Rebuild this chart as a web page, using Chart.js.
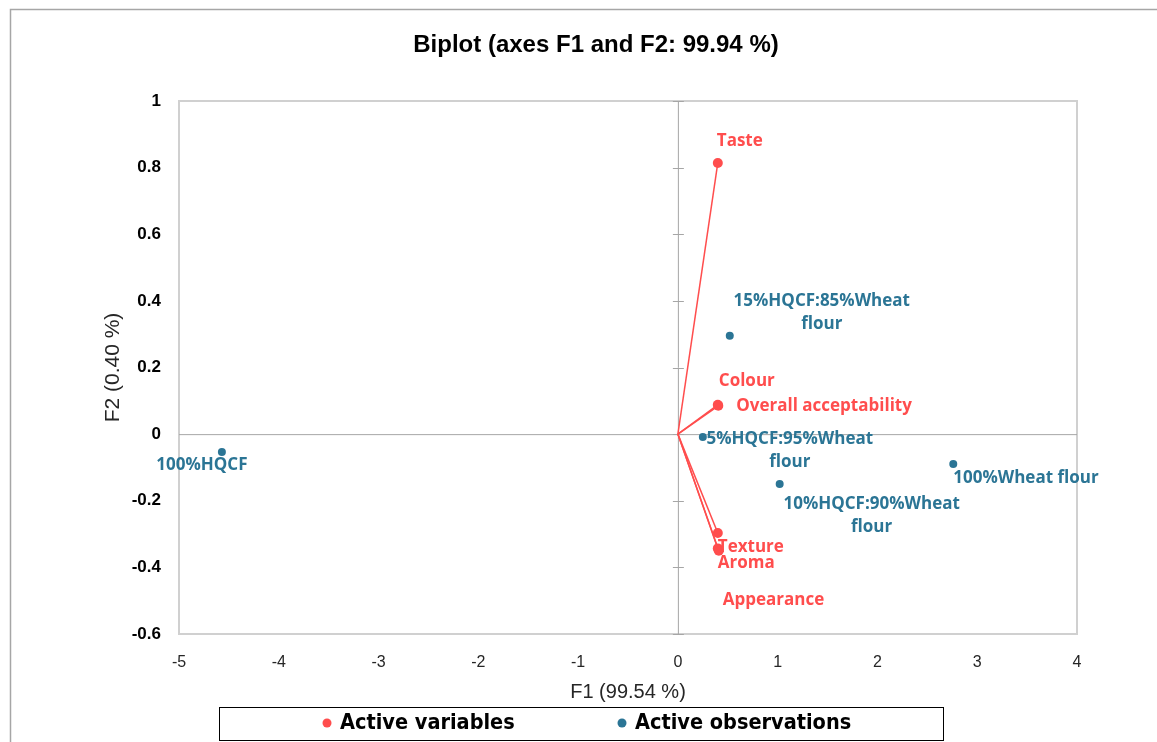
<!DOCTYPE html>
<html>
<head>
<meta charset="utf-8">
<script src="https://cdn.jsdelivr.net/npm/chart.js@4.4.1/dist/chart.umd.min.js"></script>
<style>
  html, body { margin: 0; padding: 0; background: #ffffff; }
  #wrap { width: 1157px; height: 742px; position: relative; }
</style>
</head>
<body>
<div id="wrap"><canvas id="biplot" width="1157" height="742"></canvas></div>
<script>
// active variables (vectors)
const varNames = ["Taste", "Colour", "Overall acceptability", "Texture", "Aroma", "Appearance"];
const varF1 = [0.40, 0.40, 0.405, 0.40, 0.40, 0.41];
const varF2 = [0.814, 0.088, 0.085, -0.297, -0.343, -0.35];

// active observations
const obsNames = ["100%HQCF", "15%HQCF:85%Wheat flour", "5%HQCF:95%Wheat flour", "10%HQCF:90%Wheat flour", "100%Wheat flour"];
const obsF1 = [-4.57, 0.52, 0.25, 1.02, 2.76];
const obsF2 = [-0.054, 0.295, -0.009, -0.15, -0.09];

// axis ticks
const xTicks = [-5, -4, -3, -2, -1, 0, 1, 2, 3, 4];
const yTicks = [-0.6, -0.4, -0.2, 0, 0.2, 0.4, 0.6, 0.8, 1];

const RED = "#ff4d4d";
const BLUE = "#2b7595";
const LABEL_FONT = "bold 17px 'Open Sans', 'Noto Sans', sans-serif";

// label placement relative to the point (pixels): dx, dy, align, wrap into two lines
const varLabelPos = [
  { dx: 22, dy: -22, align: "center" },
  { dx: 29, dy: -24, align: "center" },
  { dx: 18, dy: 0, align: "left" },
  { dx: 0, dy: 14, align: "left" },
  { dx: 0, dy: 15, align: "left" },
  { dx: 4, dy: 49, align: "left" },
];
const obsLabelPos = [
  { dx: -20, dy: 13, align: "center", wrap: false },
  { dx: 92, dy: -23, align: "center", wrap: true },
  { dx: 87, dy: 14, align: "center", wrap: true },
  { dx: 92, dy: 32, align: "center", wrap: true },
  { dx: 0, dy: 14, align: "left", wrap: false },
];

// build datasets: one line per variable from the origin, one scatter for observations
const datasets = varNames.map((name, i) => ({
  label: name,
  kind: "var",
  data: [{ x: 0, y: 0 }, { x: varF1[i], y: varF2[i] }],
  showLine: true,
  borderColor: RED,
  borderWidth: 1.5,
  backgroundColor: RED,
  pointBackgroundColor: RED,
  pointBorderWidth: 0,
  pointRadius: [0, 5],
}));
datasets.push({
  label: "Active observations",
  kind: "obs",
  data: obsF1.map((x, i) => ({ x: x, y: obsF2[i] })),
  showLine: false,
  backgroundColor: BLUE,
  pointBackgroundColor: BLUE,
  pointBorderWidth: 0,
  pointRadius: 4,
});

// frame, plot border, zero-axis tick marks, title
const framePlugin = {
  id: "frame",
  beforeDraw(chart) {
    const { ctx, chartArea: a } = chart;
    ctx.save();
    ctx.fillStyle = "#ffffff";
    ctx.fillRect(0, 0, chart.width, chart.height);
    ctx.strokeStyle = "#a6a6a6";
    ctx.lineWidth = 1.5;
    ctx.beginPath();
    ctx.moveTo(10.5, chart.height);
    ctx.lineTo(10.5, 9.5);
    ctx.lineTo(chart.width, 9.5);
    ctx.stroke();
    ctx.strokeStyle = "#d0d0d0";
    ctx.lineWidth = 2;
    ctx.strokeRect(a.left, a.top, a.right - a.left, a.bottom - a.top);
    ctx.restore();
  },
  beforeDatasetsDraw(chart) {
    const { ctx, scales } = chart;
    const x0 = scales.x.getPixelForValue(0);
    const y0 = scales.y.getPixelForValue(0);
    ctx.save();
    ctx.strokeStyle = "#a6a6a6";
    ctx.lineWidth = 1;
    ctx.beginPath();
    ctx.moveTo(x0 + 0.5, chart.chartArea.top);
    ctx.lineTo(x0 + 0.5, chart.chartArea.bottom);
    ctx.moveTo(chart.chartArea.left, y0 + 0.5);
    ctx.lineTo(chart.chartArea.right, y0 + 0.5);
    yTicks.forEach((v) => {
      const py = Math.round(scales.y.getPixelForValue(v)) + 0.5;
      ctx.moveTo(x0 - 5, py);
      ctx.lineTo(x0 + 6, py);
    });
    ctx.stroke();
    ctx.fillStyle = "#000000";
    ctx.font = "bold 24px 'Liberation Sans', Arial, sans-serif";
    ctx.textAlign = "center";
    ctx.textBaseline = "middle";
    ctx.fillText("Biplot (axes F1 and F2: 99.94 %)", 596, 45);
    ctx.restore();
  },
};

// point labels and legend
const labelPlugin = {
  id: "labels",
  afterDatasetsDraw(chart) {
    const { ctx } = chart;
    ctx.save();
    ctx.font = LABEL_FONT;
    ctx.textBaseline = "middle";
    chart.data.datasets.forEach((ds, di) => {
      const meta = chart.getDatasetMeta(di);
      if (ds.kind === "var") {
        const pt = meta.data[1];
        const p = varLabelPos[di];
        ctx.fillStyle = RED;
        ctx.textAlign = p.align;
        ctx.fillText(ds.label, pt.x + p.dx, pt.y + p.dy);
      } else {
        ctx.fillStyle = BLUE;
        meta.data.forEach((pt, i) => {
          const p = obsLabelPos[i];
          const name = obsNames[i];
          ctx.textAlign = p.align;
          if (p.wrap) {
            const cut = name.lastIndexOf(" ");
            ctx.fillText(name.slice(0, cut), pt.x + p.dx, pt.y + p.dy - 11.5);
            ctx.fillText(name.slice(cut + 1), pt.x + p.dx, pt.y + p.dy + 11.5);
          } else {
            ctx.fillText(name, pt.x + p.dx, pt.y + p.dy);
          }
        });
      }
    });
    ctx.restore();
  },
  afterDraw(chart) {
    const { ctx } = chart;
    ctx.save();
    ctx.strokeStyle = "#000000";
    ctx.lineWidth = 1;
    ctx.strokeRect(219.5, 707.5, 724, 33);
    const items = [
      { text: "Active variables", color: RED, x: 327 },
      { text: "Active observations", color: BLUE, x: 622 },
    ];
    ctx.font = "bold 21.5px 'Liberation Sans Narrow', 'DejaVu Sans Condensed', sans-serif";
    ctx.textBaseline = "middle";
    ctx.textAlign = "left";
    items.forEach((it) => {
      ctx.fillStyle = it.color;
      ctx.beginPath();
      ctx.arc(it.x, 723, 4.5, 0, Math.PI * 2);
      ctx.fill();
      ctx.fillStyle = "#000000";
      ctx.fillText(it.text, it.x + 13, 723);
    });
    ctx.restore();
  },
};

const ctx = document.getElementById("biplot").getContext("2d");
new Chart(ctx, {
  type: "scatter",
  data: { datasets: datasets },
  options: {
    responsive: false,
    animation: false,
    layout: { padding: { left: 97, right: 80, top: 101, bottom: 34 } },
    plugins: {
      legend: { display: false },
      tooltip: { enabled: false },
      title: { display: false },
    },
    scales: {
      x: {
        type: "linear",
        min: -5,
        max: 4,
        afterBuildTicks: (s) => { s.ticks = xTicks.map((v) => ({ value: v })); },
        afterFit: (s) => { s.height = 74; },
        grid: { display: false },
        border: { display: false },
        ticks: {
          padding: 11,
          color: "#262626",
          font: { family: "'Liberation Sans', Arial, sans-serif", size: 16 },
        },
        title: {
          display: true,
          text: "F1 (99.54 %)",
          color: "#262626",
          font: { family: "'Liberation Sans', Arial, sans-serif", size: 20 },
        },
      },
      y: {
        type: "linear",
        min: -0.6,
        max: 1,
        afterBuildTicks: (s) => { s.ticks = yTicks.map((v) => ({ value: v })); },
        afterFit: (s) => { s.width = 82; },
        grid: { display: false },
        border: { display: false },
        ticks: {
          padding: 10,
          color: "#000000",
          font: { family: "'Liberation Sans', Arial, sans-serif", size: 17, weight: "bold" },
          callback: (v) => String(Number(v.toFixed(1))),
        },
        title: {
          display: true,
          text: "F2 (0.40 %)",
          color: "#262626",
          font: { family: "'Liberation Sans', Arial, sans-serif", size: 21 },
        },
      },
    },
  },
  plugins: [framePlugin, labelPlugin],
});
</script>
</body>
</html>
